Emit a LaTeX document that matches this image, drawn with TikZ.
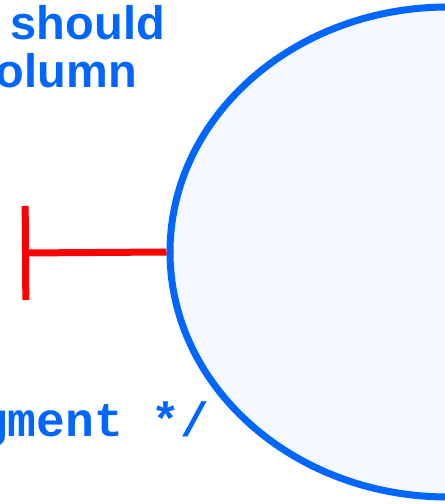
\documentclass[tikz,border=0pt]{standalone}
\usepackage{fontspec}
\setmainfont{Liberation Sans}
\setmonofont{Liberation Mono}
\usepackage{xcolor}
\usetikzlibrary{arrows.meta,positioning,shapes.geometric}

\definecolor{cblue}{HTML}{0066FF}
\definecolor{cfill}{HTML}{F5F9FF}
\definecolor{cred}{HTML}{FF0000}

\begin{document}
\begin{tikzpicture}[x=1pt, y=-1pt, every node/.style={inner sep=0pt}]
        \tikzset{
            lbl/.style={text=cblue, font=\fontsize{47}{48}\selectfont\bfseries},
            code/.style={text=cblue, font=\fontsize{48}{50}\selectfont\ttfamily\bfseries},
            blob/.style={draw=cblue, fill=cfill, ellipse, line width=7pt, minimum width=556pt, minimum height=490pt},
            inhibit/.style={-{Bar[width=94pt]}, draw=cred, line width=7pt}
        }
        % Frame of the cut-out
        \useasboundingbox (0,0) rectangle (445,504);

        % Big ellipse on the right, partly cut off
        \node[blob] (ell) at (448,252) {};

        % Labels
        \node[lbl, anchor=base east] (lblA) at (165,39) {should};
        \node[lbl, anchor=base east] (lblB) at (137,87) {olumn};
        \node[code, anchor=base west] (cmt) at (-21,436) {gment */};

        % Blocking connector
        \coordinate (stop) at (22,253);
        \draw[inhibit] (ell.west) -- (stop);
    \end{tikzpicture}
\end{document}
